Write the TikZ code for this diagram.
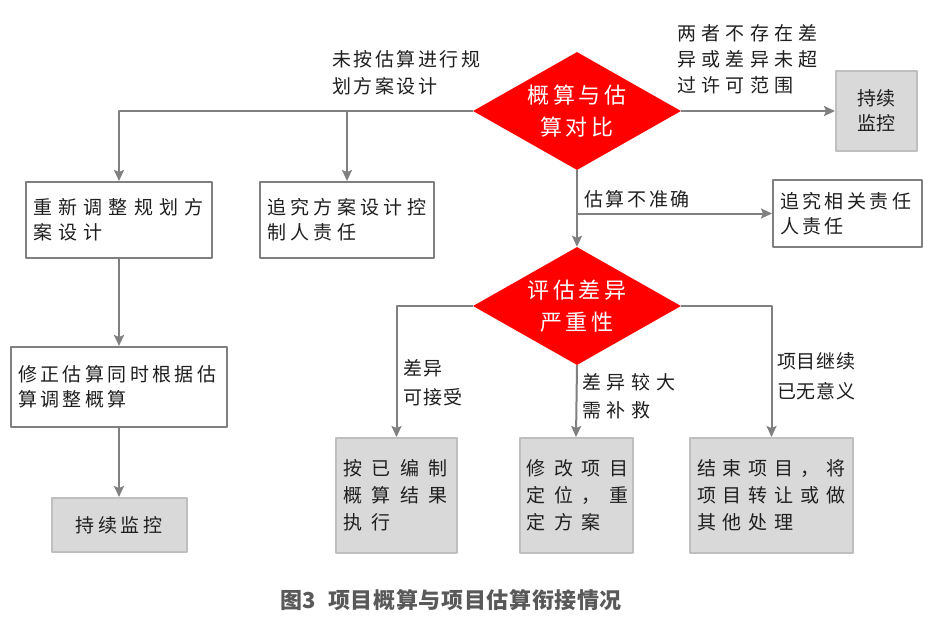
\documentclass[tikz,border=0pt]{standalone}
\usepackage{fontspec}
\setmainfont{Noto Sans CJK SC}
\usetikzlibrary{shapes.geometric,arrows.meta}

% 字距（LetterSpace 为字号的百分比）
\newcommand\jianju[1]{\addfontfeature{LetterSpace=#1}}

\begin{document}
\begin{tikzpicture}[x=1pt, y=-1pt, line join=round,
  zi/.style={font=\fontsize{19}{25}\selectfont, text=black!88},
  kuang/.style={zi, draw=gray, line width=2pt, fill=white, inner xsep=7pt, inner ysep=0pt, align=left, text width=#1},
  huikuang/.style={zi, draw=gray!50, line width=2pt, fill=gray!30, inner sep=0pt, align=center},
  ling/.style={diamond, fill=red, draw=none, inner sep=0pt, aspect=1.76, minimum width=208pt, minimum height=118pt,
               text=white, font=\fontsize{22}{32}\selectfont, align=center},
  xian/.style={draw=gray, line width=2pt, -{Stealth[length=11pt,width=10pt,inset=2pt]}},
  biao/.style={zi, font=\fontsize{19}{28}\selectfont, anchor=west, align=left, inner sep=0pt}]

  %% ════ 菱形判断框 ════
  \node[ling] (gs) at (577,111) {\jianju{18}概算与估\\\jianju{18}算对比};
  \node[ling] (pg) at (577,306) {\jianju{18}评估差异\\\jianju{18}严重性};

  %% ════ 白框 ════
  \node[kuang=172pt, minimum height=76pt] (tz) at (119,220) {\jianju{33}重新调整规划方\\\jianju{33}案设计};
  \node[kuang=160pt, minimum height=76pt] (zj) at (347,220) {\jianju{23}追究方案设计控\\\jianju{23}制人责任};
  \node[kuang=202pt, minimum height=80pt] (xz) at (119,387) {\jianju{18}修正估算同时根据估\\\jianju{18}算调整概算};
  \node[kuang=135pt, minimum height=67pt] (zr) at (847.5,213.5) {\jianju{18}追究相关责任\\\jianju{18}人责任};

  %% ════ 灰框 ════
  \node[huikuang, minimum width=81pt, minimum height=80pt] (jk1) at (876.5,111) {\jianju{5}持续\\\jianju{5}监控};
  \node[huikuang, minimum width=135pt, minimum height=54pt] (jk2) at (119,525) {\jianju{19}持续监控};
  \node[kuang=107pt, huikuang, align=left, inner xsep=7pt, minimum height=115pt, font=\fontsize{19}{27}\selectfont] (ab) at (396.5,495.5)
       {\jianju{50}按已编制\\\jianju{50}概算结果\\\jianju{50}执行};
  \node[kuang=99pt, huikuang, align=left, inner xsep=7pt, minimum height=115pt, font=\fontsize{19}{27}\selectfont] (xg) at (576,495.5)
       {\jianju{46}修改项目\\\jianju{46}定位，重\\\jianju{46}定方案};
  \node[kuang=149pt, huikuang, align=left, inner xsep=7pt, minimum height=115pt, font=\fontsize{19}{27}\selectfont] (js) at (771.5,495.5)
       {\jianju{36}结束项目，将\\\jianju{36}项目转让或做\\\jianju{36}其他处理};

  %% ════ 连线 ════
  \draw[xian] (gs.west) -| (tz.north);
  \draw[xian] (gs.west -| zj.north) -- (zj.north);
  \draw[xian] (gs.east) -- (jk1.west);
  \draw[xian] (gs.south) -- (pg.north);
  \draw[xian] (gs.south |- zr.west) -- (zr.west);
  \draw[xian] (tz.south) -- (xz.north);
  \draw[xian] (xz.south) -- (jk2.north);
  \draw[xian] (pg.west) -| (ab.north);
  \draw[xian] (pg.south) -- (xg.north);
  \draw[xian] (pg.east) -| (js.north);

  %% ════ 连线旁的说明文字 ════
  \node[biao, font=\fontsize{19}{27}\selectfont] (l1) at (332,73) {\jianju{13}未按估算进行规\\\jianju{13}划方案设计};
  \node[biao, font=\fontsize{19}{26}\selectfont] (l2) at (677,59) {\jianju{28}两者不存在差\\\jianju{28}异或差异未超\\\jianju{28}过许可范围};
  \node[biao] (l3) at (584,199) {\jianju{14}估算不准确};
  \node[biao, font=\fontsize{19}{29}\selectfont] (l4) at (403,383) {\jianju{5}差异\\\jianju{5}可接受};
  \node[biao] (l5) at (582,396) {\jianju{30}差异较大\\\jianju{30}需补救};
  \node[biao, font=\fontsize{19}{30}\selectfont] (l6) at (777,376) {\jianju{4}项目继续\\\jianju{4}已无意义};

  %% ════ 图题 ════
  \node[font=\bfseries\fontsize{22}{25}\selectfont, text=black!65] (timing) at (451,600)
       {\jianju{3}图3\hspace{12pt}项目概算与项目估算衔接情况};

  % 钉死画布
  \pgfresetboundingbox
  \path[use as bounding box] (0,0) rectangle (933,624);
\end{tikzpicture}
\end{document}
